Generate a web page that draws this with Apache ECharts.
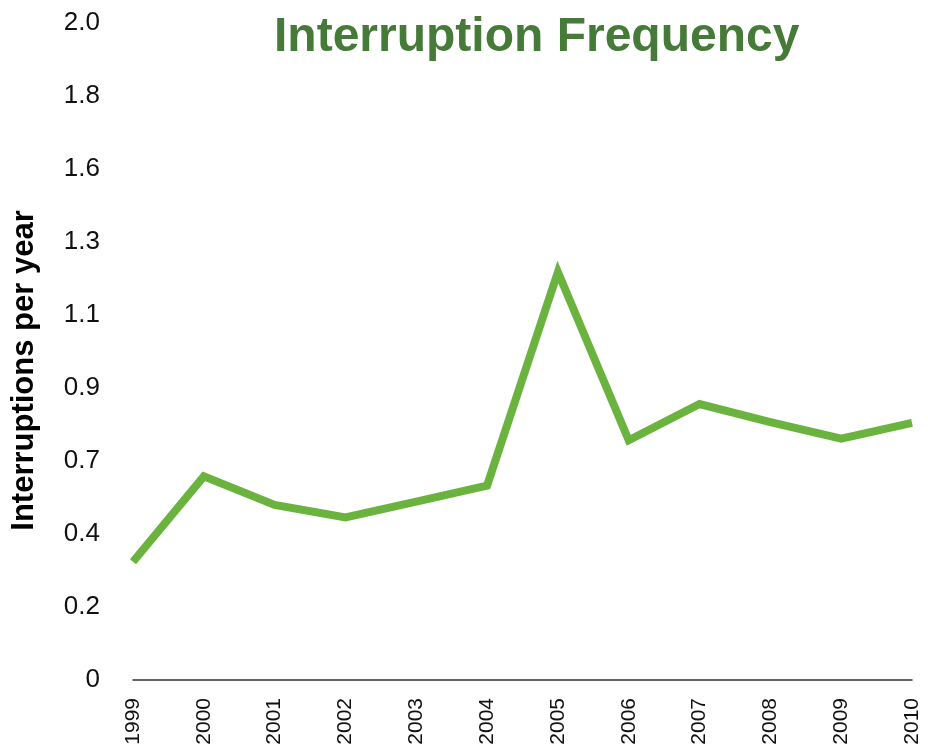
<!DOCTYPE html>
<html>
<head>
<meta charset="utf-8">
<script src="https://cdn.jsdelivr.net/npm/echarts@6/dist/echarts.min.js"></script>
<style>
  html, body { margin: 0; padding: 0; background: #fff; }
  #chart { width: 928px; height: 751px; }
</style>
</head>
<body>
<div id="chart"></div>
<script>
// Dữ liệu
var years = ['1999', '2000', '2001', '2002', '2003', '2004', '2005', '2006', '2007', '2008', '2009', '2010'];
var interruptions = [0.36, 0.62, 0.533, 0.495, 0.543, 0.592, 1.242, 0.73, 0.84, 0.785, 0.735, 0.783];

var chartDom = document.getElementById('chart');
var myChart = echarts.init(chartDom);

var labelFont = "'Liberation Sans', Arial, sans-serif";

var option = {
    animation: false,
    title: {
        text: 'Interruption Frequency',
        left: 269,
        top: 9,
        textStyle: {
            fontFamily: labelFont,
            fontSize: 48,
            fontWeight: 'bold',
            color: '#467a38'
        }
    },
    grid: { left: 133, right: 16, top: 23, bottom: 71 },
    xAxis: {
        type: 'category',
        data: years,
        boundaryGap: false,
        axisLine: { lineStyle: { color: '#333', width: 1.5 } },
        axisTick: { show: false },
        axisLabel: {
            rotate: 90,
            margin: 18,
            interval: 0,
            color: '#111',
            fontFamily: labelFont,
            fontSize: 21
        }
    },
    yAxis: {
        type: 'value',
        min: 0,
        max: 2,
        interval: 2 / 9,
        name: 'Interruptions per year',
        nameLocation: 'middle',
        nameRotate: 90,
        nameGap: 93,
        nameTextStyle: {
            fontFamily: labelFont,
            fontSize: 31,
            fontWeight: 'bold',
            color: '#000',
            padding: [0, 38, 0, 0]
        },
        axisLine: { show: false },
        axisTick: { show: false },
        splitLine: { show: false },
        axisLabel: {
            margin: 33,
            color: '#111',
            fontFamily: labelFont,
            fontSize: 26,
            formatter: function (value) {
                if (value === 0) return '0';
                return value.toFixed(1);
            }
        }
    },
    series: [{
        type: 'line',
        data: interruptions,
        showSymbol: false,
        smooth: false,
        lineStyle: { width: 8, color: '#6bb33f', join: 'miter' }
    }]
};

myChart.setOption(option);
</script>
</body>
</html>
